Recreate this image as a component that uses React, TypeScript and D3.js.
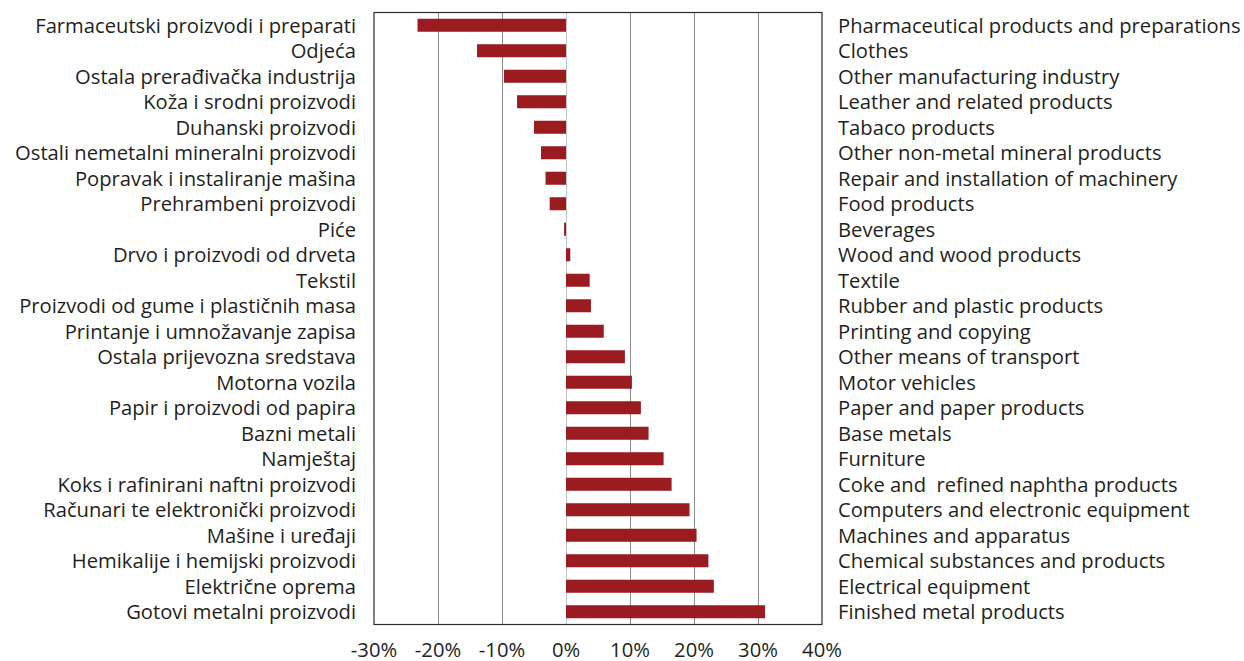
import React, { useEffect, useRef } from 'react';
import * as d3 from 'd3';

// category labels (local language, left) and English (right)
const labelsLocal = [
  'Farmaceutski proizvodi i preparati',
  'Odjeća',
  'Ostala prerađivačka industrija',
  'Koža i srodni proizvodi',
  'Duhanski proizvodi',
  'Ostali nemetalni mineralni proizvodi',
  'Popravak i instaliranje mašina',
  'Prehrambeni proizvodi',
  'Piće',
  'Drvo i proizvodi od drveta',
  'Tekstil',
  'Proizvodi od gume i plastičnih masa',
  'Printanje i umnožavanje zapisa',
  'Ostala prijevozna sredstava',
  'Motorna vozila',
  'Papir i proizvodi od papira',
  'Bazni metali',
  'Namještaj',
  'Koks i rafinirani naftni proizvodi',
  'Računari te elektronički proizvodi',
  'Mašine i uređaji',
  'Hemikalije i hemijski proizvodi',
  'Električne oprema',
  'Gotovi metalni proizvodi',
];

const labelsEnglish = [
  'Pharmaceutical products and preparations',
  'Clothes',
  'Other manufacturing industry',
  'Leather and related products',
  'Tabaco products',
  'Other non-metal mineral products',
  'Repair and installation of machinery',
  'Food products',
  'Beverages',
  'Wood and wood products',
  'Textile',
  'Rubber and plastic products',
  'Printing and copying',
  'Other means of transport',
  'Motor vehicles',
  'Paper and paper products',
  'Base metals',
  'Furniture',
  'Coke and  refined naphtha products',
  'Computers and electronic equipment',
  'Machines and apparatus',
  'Chemical substances and products',
  'Electrical equipment',
  'Finished metal products',
];

// percentage change
const values = [
  -23.2, -13.9, -9.7, -7.65, -5.0, -3.9, -3.2, -2.55, -0.3, 0.67, 3.7, 3.9, 5.9,
  9.2, 10.3, 11.7, 12.9, 15.25, 16.5, 19.3, 20.4, 22.25, 23.1, 31.1,
];

const xTicks = [-30, -20, -10, 0, 10, 20, 30, 40];

const W = 1244;
const H = 661;
const FONT = '"Open Sans", "Noto Sans", sans-serif';
const FS = 20.2;

export default function App() {
  const svgRef = useRef<SVGSVGElement | null>(null);

  useEffect(() => {
    const svg = d3.select(svgRef.current);
    svg.selectAll('*').remove();

    const left = 374;
    const right = 822;
    const top = 12.5;
    const bottom = 624.5;

    const x = d3.scaleLinear().domain([-30, 40]).range([left, right]);
    const y = d3
      .scaleBand<number>()
      .domain(d3.range(values.length))
      .range([top, bottom])
      .paddingInner(0.49)
      .paddingOuter(0.245);

    // vertical grid
    svg
      .append('g')
      .selectAll('line')
      .data(xTicks.slice(1, -1))
      .join('line')
      .attr('x1', (d) => Math.round(x(d)) + 0.5)
      .attr('x2', (d) => Math.round(x(d)) + 0.5)
      .attr('y1', top)
      .attr('y2', bottom)
      .attr('stroke', (d) => (d === 0 ? '#c4c4c4' : '#8c8c8c'))
      .attr('stroke-width', 1);

    // bars
    svg
      .append('g')
      .selectAll('rect')
      .data(values)
      .join('rect')
      .attr('x', (d) => x(Math.min(0, d)))
      .attr('y', (_, i) => y(i)!)
      .attr('width', (d) => Math.abs(x(d) - x(0)))
      .attr('height', y.bandwidth())
      .attr('fill', '#9a1b20');

    // frame
    svg
      .append('rect')
      .attr('x', left)
      .attr('y', top)
      .attr('width', right - left)
      .attr('height', bottom - top)
      .attr('fill', 'none')
      .attr('stroke', '#2b2b2b')
      .attr('stroke-width', 1.2);

    // left labels
    svg
      .append('g')
      .selectAll('text')
      .data(labelsLocal)
      .join('text')
      .attr('x', 356)
      .attr('y', (_, i) => y(i)! + y.bandwidth() / 2)
      .attr('dy', '0.37em')
      .attr('text-anchor', 'end')
      .attr('font-family', FONT)
      .attr('font-size', FS)
      .attr('fill', '#231f20')
      .text((d) => d);

    // right labels
    svg
      .append('g')
      .selectAll('text')
      .data(labelsEnglish)
      .join('text')
      .attr('x', 838)
      .attr('y', (_, i) => y(i)! + y.bandwidth() / 2)
      .attr('dy', '0.37em')
      .attr('text-anchor', 'start')
      .attr('font-family', FONT)
      .attr('font-size', FS)
      .attr('fill', '#231f20')
      .style('white-space', 'pre')
      .text((d) => d);

    // x axis labels
    svg
      .append('g')
      .selectAll('text')
      .data(xTicks)
      .join('text')
      .attr('x', (d) => x(d))
      .attr('y', 650)
      .attr('dy', '0.35em')
      .attr('text-anchor', 'middle')
      .attr('font-family', FONT)
      .attr('font-size', FS)
      .attr('fill', '#231f20')
      .text((d) => `${d}%`);
  }, []);

  return (
    <div style={{ position: 'absolute', left: 0, top: 0 }}>
      <svg ref={svgRef} width={W} height={H} style={{ display: 'block', background: '#fff' }} />
    </div>
  );
}
